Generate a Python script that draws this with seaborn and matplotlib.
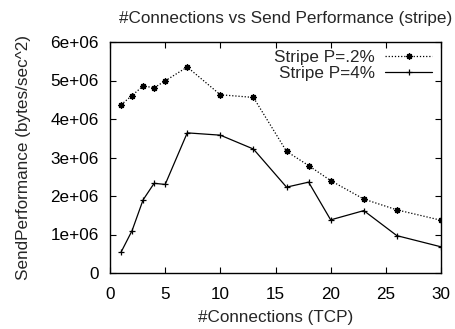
import matplotlib
matplotlib.use("Agg")
import matplotlib.pyplot as plt
import seaborn as sns
import pandas as pd

connections = [1, 2, 3, 4, 5, 7, 10, 13, 16, 18, 20, 23, 26, 30]
stripe_p02 = [4.37e6, 4.61e6, 4.86e6, 4.81e6, 4.99e6, 5.35e6, 4.63e6, 4.56e6,
              3.16e6, 2.79e6, 2.40e6, 1.92e6, 1.64e6, 1.37e6]
stripe_p4 = [0.54e6, 1.10e6, 1.90e6, 2.33e6, 2.30e6, 3.64e6, 3.58e6, 3.22e6,
             2.23e6, 2.36e6, 1.38e6, 1.62e6, 0.97e6, 0.68e6]
series_names = ["Stripe P=.2%", "Stripe P=4%"]
x_ticks = [0, 5, 10, 15, 20, 25, 30]
y_ticks = [0, 1e6, 2e6, 3e6, 4e6, 5e6, 6e6]
y_tick_labels = ["0", "1e+06", "2e+06", "3e+06", "4e+06", "5e+06", "6e+06"]

df_a = pd.DataFrame({"conn": connections, "perf": stripe_p02})
df_b = pd.DataFrame({"conn": connections, "perf": stripe_p4})

sns.set_style("ticks")
plt.rcParams["font.family"] = ["Liberation Sans", "DejaVu Sans"]
FS = 12.3

fig = plt.figure(figsize=(4.55, 3.29), dpi=100)
ax = fig.add_axes([110 / 455, 1 - 273 / 329, 331 / 455, 231 / 329])

sns.lineplot(data=df_a, x="conn", y="perf", color="black", linestyle=(0, (1, 1.5)),
             linewidth=0.9, marker=(8, 2, 0), markersize=4.5, markeredgewidth=1.0,
             markeredgecolor="black", markerfacecolor="none", label=series_names[0], ax=ax)
sns.lineplot(data=df_b, x="conn", y="perf", color="black", linestyle="-",
             linewidth=0.9, marker="+", markersize=5, markeredgewidth=0.9,
             markeredgecolor="black", label=series_names[1], ax=ax)

ax.set_xlim(0, 30)
ax.set_ylim(0, 6e6)
ax.set_xticks(x_ticks)
ax.set_yticks(y_ticks)
ax.set_yticklabels(y_tick_labels)
ax.tick_params(direction="in", length=4, width=0.8, top=True, right=True,
               labelsize=FS, colors="black")
ax.tick_params(axis="x", pad=10)
ax.tick_params(axis="y", pad=8)
for s in ax.spines.values():
    s.set_linewidth(1.0)
    s.set_color("black")

ax.set_xlabel("#Connections (TCP)", fontsize=FS, labelpad=6)
ax.set_ylabel("SendPerformance (bytes/sec^2)", fontsize=FS, labelpad=14)
ax.set_title("#Connections vs Send Performance (stripe)", fontsize=FS, pad=14, x=0.53)

# legend: text to the left, line sample with one centred marker to the right
leg = ax.legend(loc="upper right", bbox_to_anchor=(1 - 9 / 331, 1 - 8 / 231),
                frameon=False, fontsize=FS, markerfirst=False, numpoints=1,
                handlelength=2.75, borderaxespad=0.0, labelspacing=0.05,
                handletextpad=0.6, borderpad=0.0)
for t in leg.get_texts():
    t.set_ha("right")

fig.savefig("out.png", dpi=100)
